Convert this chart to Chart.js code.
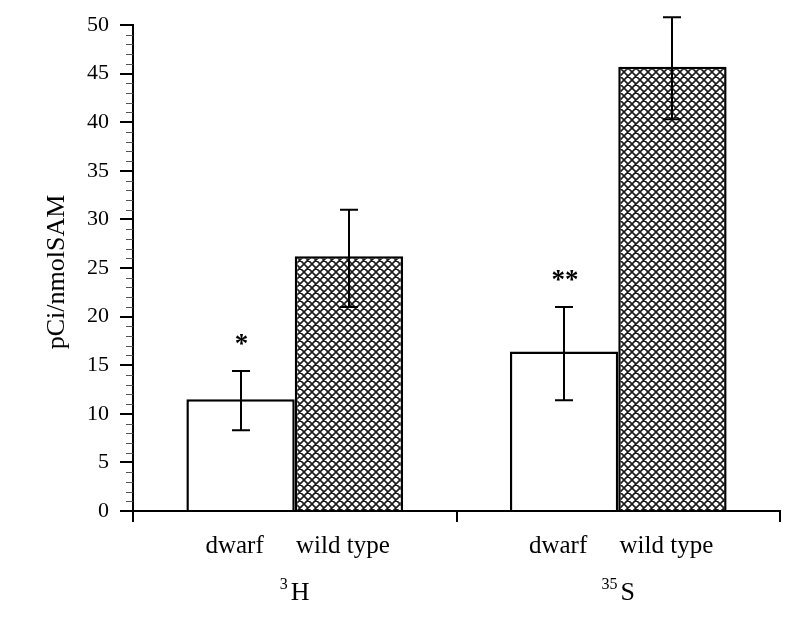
<!DOCTYPE html>
<html><head><meta charset="utf-8">
<script src="https://cdn.jsdelivr.net/npm/chart.js@4"></script>
<style>html,body{margin:0;padding:0;background:#fff;} canvas{display:block;}</style>
</head><body>
<canvas id="c" width="800" height="617"></canvas>
<script>
// ---- data ----
const groups = ['3H', '35S'];
const groupMass = ['3', '35'];
const groupElement = ['H', 'S'];
const seriesNames = ['dwarf', 'wild type'];
const dwarfValues = [11.5, 16.4];
const wildValues = [26.2, 45.7];
const dwarfErrLow = [8.3, 11.4];
const dwarfErrHigh = [14.4, 21.0];
const wildErrLow = [21.0, 40.3];
const wildErrHigh = [31.0, 50.8];
const dwarfSignif = ['*', '**'];
const yTitle = 'pCi/nmolSAM';
const yMin = 0, yMax = 50, yMajorStep = 5, yMinorStep = 1;

const SERIF = "'Liberation Serif','Times New Roman',serif";
const canvas = document.getElementById('c');
const mainCtx = canvas.getContext('2d');

function makeHatch() {
  const s = 8;
  const c = document.createElement('canvas');
  c.width = s; c.height = s;
  const g = c.getContext('2d');
  g.fillStyle = '#fff'; g.fillRect(0, 0, s, s);
  g.strokeStyle = '#1a1a1a'; g.lineWidth = 1.6;
  g.beginPath();
  for (const d of [-s, 0, s]) {
    g.moveTo(d, 0); g.lineTo(d + s, s);
    g.moveTo(d + s, 0); g.lineTo(d, s);
  }
  g.stroke();
  return mainCtx.createPattern(c, 'repeat');
}

const overlay = {
  id: 'overlay',
  afterDraw(chart) {
    const ctx = chart.ctx, y = chart.scales.y, x = chart.scales.x, area = chart.chartArea;
    ctx.save();
    // minor ticks
    ctx.strokeStyle = '#555'; ctx.lineWidth = 1;
    for (let v = yMin; v <= yMax; v += yMinorStep) {
      if (v % yMajorStep === 0) continue;
      const py = Math.round(y.getPixelForValue(v)) + 0.5;
      ctx.beginPath(); ctx.moveTo(area.left - 7, py); ctx.lineTo(area.left, py); ctx.stroke();
    }
    // error bars
    const errs = [[dwarfErrLow, dwarfErrHigh], [wildErrLow, wildErrHigh]];
    ctx.strokeStyle = '#000'; ctx.lineWidth = 2;
    chart.data.datasets.forEach((ds, di) => {
      const meta = chart.getDatasetMeta(di);
      meta.data.forEach((bar, i) => {
        const lo = y.getPixelForValue(errs[di][0][i]);
        const hi = y.getPixelForValue(errs[di][1][i]);
        const cx = Math.round(bar.x);
        ctx.beginPath();
        ctx.moveTo(cx, lo); ctx.lineTo(cx, hi);
        ctx.moveTo(cx - 9, lo); ctx.lineTo(cx + 9, lo);
        ctx.moveTo(cx - 9, hi); ctx.lineTo(cx + 9, hi);
        ctx.stroke();
      });
    });
    // significance asterisks above dwarf error bars
    ctx.fillStyle = '#000';
    ctx.font = 'bold 27px ' + SERIF;
    ctx.textAlign = 'center'; ctx.textBaseline = 'alphabetic';
    const dMeta = chart.getDatasetMeta(0);
    dMeta.data.forEach((bar, i) => {
      const hi = y.getPixelForValue(dwarfErrHigh[i]);
      ctx.fillText(dwarfSignif[i], bar.x + 1, hi - 19);
    });
    // series labels under bars
    ctx.font = '25px ' + SERIF;
    chart.data.datasets.forEach((ds, di) => {
      const meta = chart.getDatasetMeta(di);
      meta.data.forEach((bar) => {
        ctx.fillText(seriesNames[di], bar.x - 6, area.bottom + 42);
      });
    });
    // group labels with superscript mass number
    groups.forEach((g, i) => {
      const cx = x.getPixelForValue(i);
      ctx.font = '16px ' + SERIF;
      const wm = ctx.measureText(groupMass[i]).width;
      ctx.font = '26px ' + SERIF;
      const we = ctx.measureText(groupElement[i]).width;
      const gap = 3;
      const total = wm + gap + we;
      const left = cx - total / 2;
      ctx.textAlign = 'left';
      ctx.font = '16px ' + SERIF;
      ctx.fillText(groupMass[i], left, area.bottom + 78);
      ctx.font = '26px ' + SERIF;
      ctx.fillText(groupElement[i], left + wm + gap, area.bottom + 89);
    });
    // y title
    ctx.font = '26px ' + SERIF;
    ctx.textAlign = 'center'; ctx.textBaseline = 'middle';
    ctx.translate(57, (area.top + area.bottom) / 2 + 4);
    ctx.rotate(-Math.PI / 2);
    ctx.fillText(yTitle, 0, 0);
    ctx.restore();
  }
};

const hatch = makeHatch();

new Chart(canvas, {
  type: 'bar',
  data: {
    labels: groups,
    datasets: [
      { label: seriesNames[0], data: dwarfValues, backgroundColor: '#fff', borderColor: '#000', borderWidth: 2.5 },
      { label: seriesNames[1], data: wildValues, backgroundColor: hatch, borderColor: '#000', borderWidth: 2.5 }
    ]
  },
  options: {
    responsive: false,
    animation: false,
    devicePixelRatio: 1,
    datasets: { bar: { categoryPercentage: 0.67, barPercentage: 1.0 } },
    layout: { padding: { top: 25, right: 20, left: 0, bottom: 0 } },
    plugins: { legend: { display: false }, tooltip: { enabled: false } },
    scales: {
      x: {
        offset: true,
        grid: { offset: true, drawOnChartArea: false, drawTicks: true, tickLength: 11, color: '#000', lineWidth: 2 },
        border: { display: true, color: '#000', width: 2 },
        ticks: { display: false },
        afterFit(s) { s.height = 106; }
      },
      y: {
        min: yMin, max: yMax,
        ticks: { stepSize: yMajorStep, padding: 11, color: '#000', font: { family: SERIF, size: 22 } },
        grid: { drawOnChartArea: false, tickLength: 13, color: '#000', lineWidth: 2 },
        border: { display: true, color: '#000', width: 2 },
        afterFit(s) { s.width = 133; }
      }
    }
  },
  plugins: [overlay]
});
</script>
</body></html>
